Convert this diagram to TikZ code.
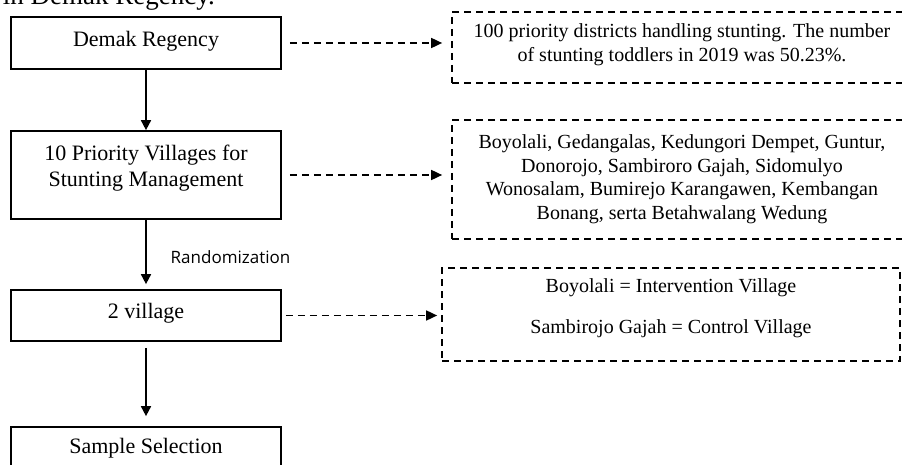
\documentclass[tikz,border=0pt]{standalone}
\usepackage{fontspec}
\setmainfont{Liberation Serif}
\newfontfamily\labelfont{Open Sans}
\usetikzlibrary{arrows.meta}
\tikzset{
  stepbox/.style={draw,line width=1.7pt,minimum width=270pt,inner sep=0pt,font=\fontsize{22}{26}\selectfont},
  notebox/.style={draw,line width=1.7pt,dash pattern=on 7pt off 5pt,inner sep=0pt,font=\fontsize{20}{23.5}\selectfont},
  flow/.style={line width=1.7pt,-{Triangle[length=10pt,width=10pt]}},
  link/.style={line width=1.7pt,dash pattern=on 7pt off 5pt,-{Triangle[length=11pt,width=10pt]}}
}
\begin{document}
\begin{tikzpicture}[x=1pt,y=-1pt]
  \path[use as bounding box] (0,0) rectangle (902,465);
  \clip (0,0) rectangle (902,465);

  \node[anchor=base east,inner sep=0pt,font=\fontsize{27}{32}\selectfont] (caption) at (215,5) {in Demak Regency.};

  \node[stepbox,minimum height=52pt,text depth=7.8pt] (demak) at (146,43) {Demak Regency};
  \node[stepbox,minimum height=88pt,text depth=20.8pt] (villages) at (146,175)
    {\begin{tabular}[b]{@{}c@{}}10 Priority Villages for\\Stunting Management\end{tabular}};
  \node[stepbox,minimum height=51pt,text depth=9.8pt] (twovillage) at (146,315.5) {2 village};
  \node[stepbox,minimum height=50pt,text depth=11.8pt] (sample) at (146,452) {Sample Selection};

  \node[font=\labelfont\fontsize{17}{20}\selectfont] (rand) at (230.5,257) {Randomization};

  \node[notebox,minimum width=460pt,minimum height=71pt,text depth=12pt] (district) at (682,47.5)
    {\begin{tabular}[b]{@{}c@{}}100 priority districts handling stunting. The number\\of stunting toddlers in 2019 was 50.23\%.\end{tabular}};
  \node[notebox,minimum width=460pt,minimum height=119pt] (villagelist) at (682,179.5)
    {\begin{tabular}{@{}c@{}}Boyolali, Gedangalas, Kedungori Dempet, Guntur,\\Donorojo, Sambiroro Gajah, Sidomulyo\\Wonosalam, Bumirejo Karangawen, Kembangan\\Bonang, serta Betahwalang Wedung\end{tabular}};
  \node[notebox,minimum width=458pt,minimum height=93pt,text depth=19pt] (groups) at (671,314.5)
    {\begin{tabular}[b]{@{}c@{}}Boyolali = Intervention Village\\[17.5pt]Sambirojo Gajah = Control Village\end{tabular}};

  \draw[flow] (demak) -- (villages);
  \draw[flow,shorten >=5pt] (villages) -- (twovillage);
  \draw[flow,shorten <=6pt,shorten >=10pt] (twovillage) -- (sample);

  \draw[link,shorten <=8pt,shorten >=9pt] (demak.east) -- (demak.east -| district.west);
  \draw[link,shorten <=8pt,shorten >=9pt] (villages.east) -- (villages.east -| villagelist.west);
  \draw[link,shorten <=4pt,shorten >=4pt] (twovillage.east) -- (twovillage.east -| groups.west);
\end{tikzpicture}
\end{document}
